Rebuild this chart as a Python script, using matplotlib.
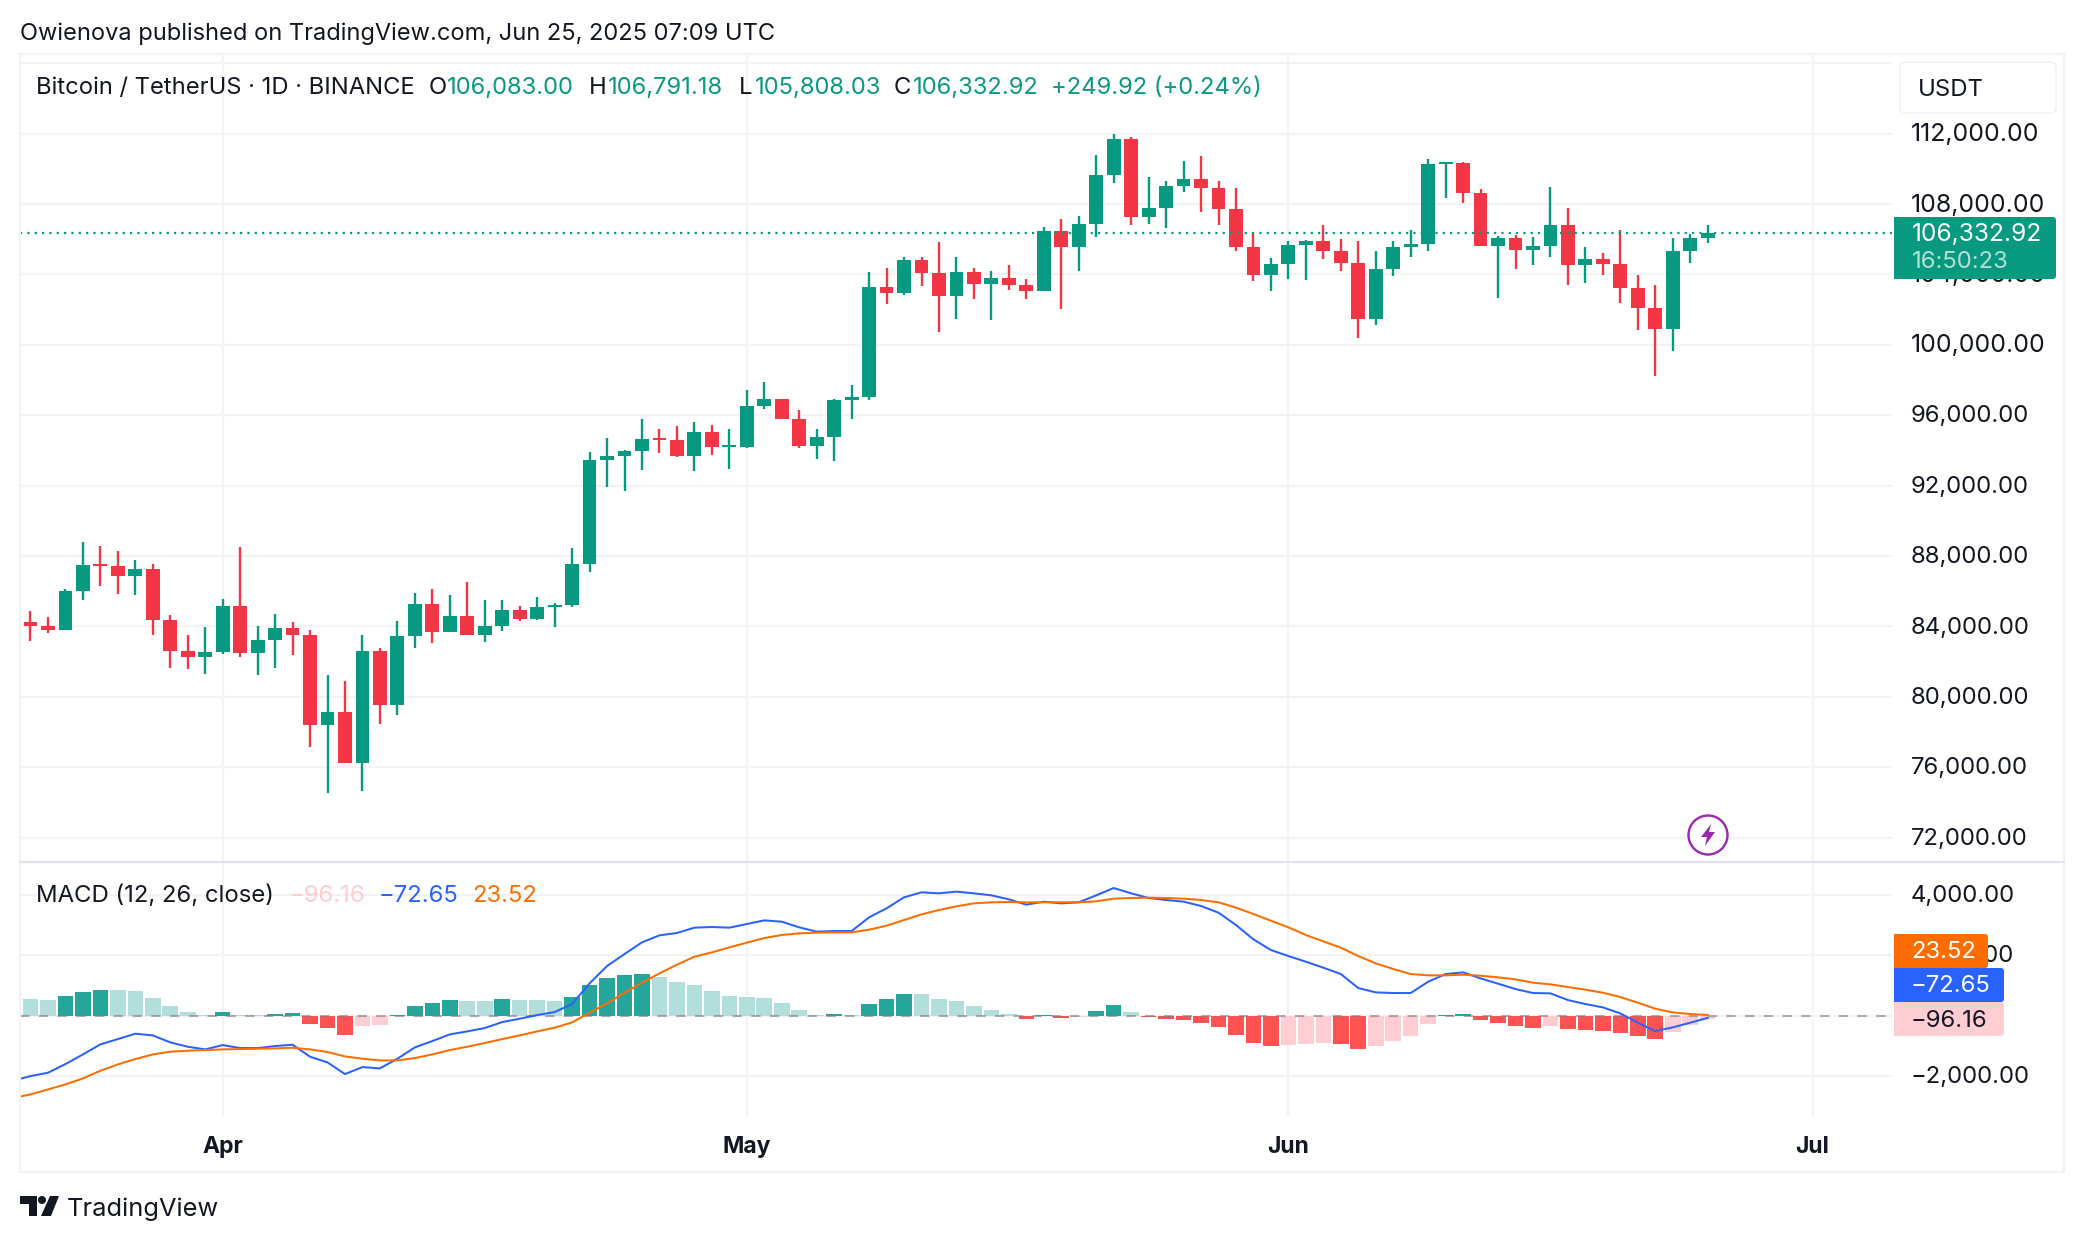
import matplotlib
matplotlib.use('Agg')
import matplotlib.pyplot as plt
from matplotlib.patches import Rectangle, FancyBboxPatch, Circle, Polygon
from matplotlib.transforms import ScaledTranslation
import numpy as np

plt.rcParams['font.family'] = ['Inter', 'DejaVu Sans']

# daily candles, Mar 21 to Jun 25 2025
first_open = 84227
close = [84000, 83773, 86045, 87466, 87409, 86841, 87239, 84341, 82580, 82295,
         82523, 85136, 82466, 83205, 83886, 83489, 78375, 79170, 76272, 82580,
         79511, 83432, 85250, 83659, 84568, 83545, 84000, 84909, 84398, 85080,
         85193, 87523, 93436, 93663, 93947, 94629, 94572, 93663, 95027, 94174,
         94174, 96504, 96902, 95765, 94231, 94743, 96845, 97015, 103266, 102925,
         104800, 104061, 102754, 104118, 103436, 103777, 103379, 103038, 106447, 105538,
         106845, 109629, 111674, 107242, 107754, 109004, 109402, 108890, 107697, 105538,
         103947, 104572, 105651, 105879, 105311, 104629, 101447, 104288, 105538, 105708,
         110254, 110311, 108606, 105595, 106049, 105367, 105595, 106788, 104515, 104856,
         104572, 103208, 102072, 100879, 105311, 106083, 106332.92]
high = [84852, 84511, 86102, 88773, 88546, 88262, 87750, 87523, 84625, 83489,
        83943, 85534, 88489, 84000, 84682, 84227, 83773, 81216, 80875, 83545,
        82750, 84284, 85875, 86102, 85761, 86500, 85477, 85477, 85136, 85648,
        85307, 88432, 93890, 94686, 94004, 95765, 95197, 95368, 95595, 95424,
        95197, 97413, 97868, 96902, 96277, 95197, 96902, 97697, 104118, 104345,
        104970, 104970, 105822, 104970, 104345, 104175, 104515, 103720, 106675, 107129,
        107300, 110765, 111958, 111788, 109515, 109288, 110424, 110708, 109288, 108890,
        106333, 104913, 105879, 105936, 106788, 105992, 105879, 105311, 105879, 106504,
        110538, 110368, 110368, 108833, 106163, 106220, 106106, 108947, 107754, 105538,
        105197, 106504, 103947, 103379, 106049, 106277, 106791.18]
low = [83148, 83602, 83773, 85477, 86273, 85818, 85761, 83545, 81614, 81557,
       81273, 82409, 82295, 81216, 81614, 82352, 77125, 74511, 76216, 74625,
       78432, 78943, 82750, 83034, 83659, 83545, 83091, 83716, 84284, 84341,
       83943, 85080, 87072, 91902, 91674, 92868, 93834, 93606, 92811, 93720,
       92924, 94117, 96334, 95765, 94117, 93493, 93379, 95765, 96845, 102300,
       102811, 103323, 100709, 101447, 102584, 101391, 103095, 102584, 103038, 102016,
       104175, 106106, 109174, 106788, 106845, 106617, 108663, 107527, 106788, 105311,
       103606, 103038, 103720, 103663, 104856, 104174, 100367, 101106, 103890, 104970,
       105311, 108322, 108038, 105595, 102640, 104288, 104515, 104970, 103379, 103492,
       103947, 102356, 100822, 98208, 99629, 104629, 105808.03]

# macd series start one day earlier, Mar 20, cut off by the left edge
macd_hist = [552, 552, 519, 651, 784, 850, 850, 817, 585, 320, 121,
             40, 121, 40, 40, 55, 88, -276, -408, -640, -342,
             -309, 33, 320, 420, 519, 486, 486, 552, 519, 519,
             486, 618, 1016, 1248, 1347, 1380, 1281, 1115, 1016, 817,
             651, 618, 585, 420, 188, 22, 44, 22, 386, 552,
             718, 718, 552, 486, 320, 188, 55, -110, 33, -77,
             -44, 155, 353, 121, -44, -110, -144, -243, -375, -640,
             -905, -1005, -972, -938, -905, -938, -1104, -1005, -839, -662,
             -276, 33, 66, -144, -243, -342, -408, -342, -442, -475,
             -508, -574, -674, -773, -541, -309, -96.16]
macd_line = [-2153, -1998, -1888, -1601, -1281, -949, -773, -596, -651, -883, -1027,
             -1115, -972, -1071, -1071, -1005, -960, -1358, -1546, -1932, -1700,
             -1744, -1424, -1049, -839, -618, -519, -408, -210, -99, 22,
             121, 386, 1071, 1645, 2042, 2429, 2661, 2738, 2915, 2937,
             2915, 3036, 3157, 3113, 2926, 2782, 2804, 2804, 3257, 3555,
             3919, 4085, 4052, 4107, 4052, 3985, 3853, 3676, 3776, 3720,
             3754, 3985, 4228, 4052, 3897, 3831, 3776, 3632, 3411, 3003,
             2528, 2175, 1976, 1788, 1590, 1380, 916, 773, 751, 751,
             1126, 1380, 1435, 1236, 1060, 883, 751, 740, 519, 386,
             276, 77, -232, -508, -386, -232, -72.65]
signal_line = [-2727, -2605, -2440, -2274, -2076, -1822, -1612, -1435, -1281, -1192, -1159,
               -1137, -1115, -1104, -1093, -1082, -1060, -1115, -1203, -1347, -1424,
               -1479, -1479, -1402, -1281, -1137, -1027, -905, -773, -651, -519,
               -397, -221, 99, 408, 762, 1093, 1402, 1689, 1954, 2098,
               2263, 2418, 2572, 2672, 2727, 2749, 2760, 2760, 2848, 2981,
               3168, 3356, 3500, 3621, 3720, 3754, 3765, 3754, 3754, 3754,
               3754, 3787, 3875, 3897, 3908, 3897, 3875, 3831, 3754, 3577,
               3367, 3146, 2926, 2672, 2462, 2252, 1976, 1733, 1546, 1380,
               1336, 1336, 1358, 1325, 1270, 1203, 1093, 1038, 949, 861,
               762, 618, 430, 232, 110, 55, 23.52]

price_ticks = [72000, 76000, 80000, 84000, 88000, 92000, 96000, 100000, 104000, 108000, 112000]
macd_ticks = [-2000, 2000, 4000]
month_pos = [11, 41, 72, 102]
month_names = ['Apr', 'May', 'Jun', 'Jul']
last_price = 106332.92

GREEN = '#089981'
RED = '#f23645'
TEXT = '#131722'
GRID = '#f3f3f4'
FRAME = '#f2f3f5'

W, H = 2084, 1242
XLIM = (-0.601, 106.55)


def px_axes(fig, x0, y0, x1, y1):
    # axes from pixel box, y counted from top of the picture
    return fig.add_axes([x0/W, 1-y1/H, (x1-x0)/W, (y1-y0)/H])


def setup(a, ticks, labels):
    for s in a.spines.values():
        s.set_visible(False)
    a.set_xlim(XLIM)
    a.yaxis.tick_right()
    a.set_yticks(ticks)
    a.set_yticklabels(labels, fontsize=17.2, color=TEXT)
    a.tick_params(axis='y', length=0, pad=13.5)
    a.tick_params(axis='x', length=0, labelbottom=False)
    a.set_xticks(month_pos)
    a.grid(True, color=GRID, lw=1.6)
    a.set_axisbelow(True)
    # labels sit a little above their grid line
    up = ScaledTranslation(0, 1.4/100, a.figure.dpi_scale_trans)
    for t in a.get_yticklabels():
        t.set_transform(t.get_transform() + up)
        if t.get_text().startswith('1'):
            t.set_fontsize(17.9)  # the source uses wider ones


def money(v):
    return f"{v:,.2f}".replace('-', '\u2212')


fig = plt.figure(figsize=(W/100, H/100), dpi=100, facecolor='white')

# price pane
ax = px_axes(fig, 20, 54, 1892, 861.7)
ax.set_ylim(70636, 116528)
setup(ax, price_ticks, [money(t) for t in price_ticks])
ax.axhline(116000, color=GRID, lw=1.6, zorder=0)

x = np.arange(len(close))
c = np.array(close)
o = np.r_[first_open, c[:-1]]
up_day = c >= o
colors = np.where(up_day, GREEN, RED)
ax.vlines(x, low, high, colors=colors, lw=1.7, zorder=3)
body = np.maximum(np.abs(c-o), 120)
ax.bar(x, body, bottom=np.minimum(o, c), width=0.79, color=colors, zorder=4)
ax.axhline(last_price, color=GREEN, lw=1.6, ls=(0, (1, 2.3)), zorder=5)

# macd pane
ax2 = px_axes(fig, 20, 862, 1892, 1116)
ax2.set_ylim(-3320, 5089)
setup(ax2, macd_ticks, [money(t) for t in macd_ticks])
x_macd = np.arange(-1, len(close))
hist = np.array(macd_hist)
rising = np.diff(hist, prepend=hist[0]) > 0
hist_colors = []
for v, r in zip(hist, rising):
    if v >= 0:
        hist_colors.append('#26a69a' if r else '#b2dfdb')
    else:
        hist_colors.append('#ffcdd2' if r else '#ff5252')
ax2.axhline(0, color=GRID, lw=1.6, zorder=0)
ax2.bar(x_macd, hist, width=0.89, color=hist_colors, zorder=2)
ax2.axhline(0, color='#787b86', alpha=0.6, lw=1.5, ls=(0, (4.5, 4.5)), zorder=3)
ax2.plot(x_macd, macd_line, color='#2962ff', lw=1.45, zorder=4)
ax2.plot(x_macd, signal_line, color='#ff6d00', lw=1.45, zorder=5)

# everything else is placed in picture pixels
ov = fig.add_axes([0, 0, 1, 1], zorder=10)
ov.set_xlim(0, W)
ov.set_ylim(H, 0)
ov.axis('off')
ov.patch.set_alpha(0)

ov.add_patch(Rectangle((20, 54), 2044, 1118, fc='none', ec=FRAME, lw=1.6))
ov.plot([20, 2064], [861.7, 861.7], color='#e0e3eb', lw=1.6)


def label(x, y, s, color=TEXT, size=17.2, **kw):
    ov.text(x, y-1.3, s, color=color, fontsize=size, va='center_baseline', ha=kw.pop('ha', 'left'), **kw)


def box(x0, y0, x1, y1, color):
    ov.add_patch(FancyBboxPatch((x0+3, y0+3), x1-x0-6, y1-y0-6, boxstyle='round,pad=3',
                                fc=color, ec='none'))
    ov.add_patch(Rectangle((x0, y0), 8, y1-y0, fc=color, ec='none'))


# header and legend row
label(20, 33, 'Owienova published on TradingView.com, Jun 25, 2025 07:09 UTC', size=17)
label(36, 87, 'Bitcoin / TetherUS \u00b7 1D \u00b7 BINANCE', size=17.1)
for px, s in zip([429, 589, 739, 894], ['O', 'H', 'L', 'C']):
    label(px, 87, s)
for px, s in zip([447, 608, 755, 913, 1051],
                 ['106,083.00', '106,791.18', '105,808.03', '106,332.92', '+249.92 (+0.24%)']):
    label(px, 87, s, color=GREEN, size=17.1)

# USDT button
ov.add_patch(FancyBboxPatch((1906, 68), 144, 39, boxstyle='round,pad=6', fc='white', ec=FRAME, lw=1.2))
label(1918, 88.5, 'USDT', size=17.2)

# last price tag
box(1894, 217, 2056, 279, GREEN)
label(1912, 233, money(last_price), color='white', size=17.7)
label(1912, 261, '16:50:23', color='#b5e0d8')

# macd legend and tags
label(36.5, 895, 'MACD (12, 26, close)')
label(289, 895, '\u221296.16', color='#ffcdd2')
label(379, 895, '\u221272.65', color='#2962ff')
label(472, 895, '23.52', color='#ff6d00')
box(1894, 934, 1988, 968, '#ff6d00')
label(1911, 951, '23.52', color='white')
box(1894, 968, 2004, 1002, '#2962ff')
label(1911, 985, '\u221272.65', color='white')
box(1894, 1002, 2004, 1036, '#ffcdd2')
label(1911, 1019.5, '\u221296.16')

# month labels
for p, s in zip(month_pos, month_names):
    px = 30.5 + 17.47*p
    label(px, 1145.6, s, ha='center', fontweight='bold', size=16.5)

# lightning badge
ov.add_patch(Circle((1708, 835), 19.5, fc='white', ec='#9c27b0', lw=1.7))
ov.add_patch(Polygon([(1711, 824), (1701, 837), (1707, 837), (1705, 846), (1715, 832), (1709, 832)],
                     closed=True, fc='#9c27b0', ec='none'))

# TradingView logo
ov.add_patch(Polygon([(20, 1196), (37, 1196), (37, 1216), (29, 1216), (29, 1204), (20, 1204)], fc=TEXT, ec='none'))
ov.add_patch(Circle((42, 1200), 4, fc=TEXT, ec='none'))
ov.add_patch(Polygon([(50, 1196), (59, 1196), (51, 1216), (41, 1216)], fc=TEXT, ec='none'))
label(67, 1208, 'TradingView', size=18.3)

fig.savefig('out.png', dpi=100)
